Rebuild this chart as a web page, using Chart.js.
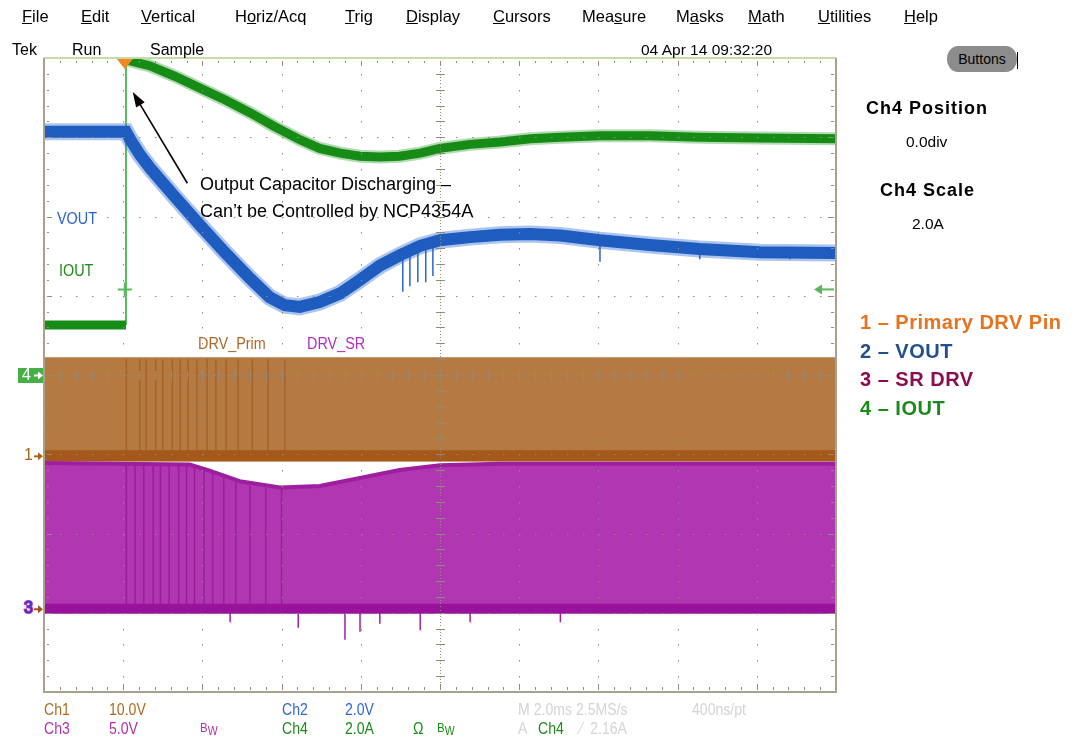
<!DOCTYPE html>
<html><head><meta charset="utf-8">
<script src="https://cdn.jsdelivr.net/npm/chart.js@4.4.1/dist/chart.umd.min.js"></script>
<style>
body{margin:0;background:#fff;width:1076px;height:740px;overflow:hidden;position:relative;font-family:'Liberation Sans',Arial,sans-serif}
#c{position:absolute;left:0;top:0}
.t{position:absolute;white-space:nowrap;line-height:1}
.m{font-size:16.5px;top:8px;color:#000}
.r2{font-size:16px;top:42px;color:#000}
.cn{transform:scaleX(.88);transform-origin:0 0;font-size:16px}
.s1{top:702px}.s2{top:721px}
.lg{font-weight:bold;font-size:20px;letter-spacing:.5px;left:860px}
.pn{font-weight:bold;font-size:18px;color:#000;letter-spacing:1px}
.in{font-size:16px;transform:scaleX(.9);transform-origin:0 0}
#btn{position:absolute;left:947px;top:46px;width:70px;height:26px;background:#8c8c8c;border-radius:11px/13px;font-size:14px;line-height:26px;text-align:center;color:#000}
#bar{position:absolute;left:1017px;top:52px;width:1px;height:17px;background:#000}
</style></head><body>
<canvas id="c" width="1076" height="740"></canvas>

<div class="t m" style="left:22px"><u>F</u>ile</div>
<div class="t m" style="left:81px"><u>E</u>dit</div>
<div class="t m" style="left:141px"><u>V</u>ertical</div>
<div class="t m" style="left:235px">H<u>o</u>riz/Acq</div>
<div class="t m" style="left:345px"><u>T</u>rig</div>
<div class="t m" style="left:406px"><u>D</u>isplay</div>
<div class="t m" style="left:493px"><u>C</u>ursors</div>
<div class="t m" style="left:582px">Mea<u>s</u>ure</div>
<div class="t m" style="left:676px">M<u>a</u>sks</div>
<div class="t m" style="left:748px"><u>M</u>ath</div>
<div class="t m" style="left:818px"><u>U</u>tilities</div>
<div class="t m" style="left:904px"><u>H</u>elp</div>

<div class="t r2" style="left:12px">Tek</div>
<div class="t r2" style="left:72px">Run</div>
<div class="t r2" style="left:150px">Sample</div>
<div class="t r2" style="left:641px;font-size:15.5px">04 Apr 14 09:32:20</div>

<div id="btn">Buttons</div><div id="bar"></div>
<div class="t pn" style="left:866px;top:99px">Ch4 Position</div>
<div class="t" style="left:906px;top:134px;font-size:15.5px">0.0div</div>
<div class="t pn" style="left:880px;top:181px">Ch4 Scale</div>
<div class="t" style="left:912px;top:216px;font-size:15.5px">2.0A</div>

<div class="t lg" style="top:312px;color:#e8731e">1 – Primary DRV Pin</div>
<div class="t lg" style="top:341px;color:#22508c">2 – VOUT</div>
<div class="t lg" style="top:369px;color:#8c0c52">3 – SR DRV</div>
<div class="t lg" style="top:398px;color:#1a8a1a">4 – IOUT</div>

<div class="t in" style="left:57px;top:211px;color:#2a64c8">VOUT</div>
<div class="t in" style="left:59px;top:263px;color:#1c8c1c">IOUT</div>
<div class="t in" style="left:198px;top:336px;color:#b0682a">DRV_Prim</div>
<div class="t in" style="left:307px;top:336px;color:#b030c0">DRV_SR</div>

<div class="t" style="left:200px;top:175px;font-size:18px;color:#000">Output Capacitor Discharging –</div>
<div class="t" style="left:200px;top:202px;font-size:18px;color:#000">Can’t be Controlled by NCP4354A</div>

<div class="t cn s1" style="left:44px;color:#b06a20">Ch1</div>
<div class="t cn s1" style="left:109px;color:#b06a20">10.0V</div>
<div class="t cn s1" style="left:282px;color:#2a6ad0">Ch2</div>
<div class="t cn s1" style="left:345px;color:#2a6ad0">2.0V</div>
<div class="t cn s1" style="left:518px;color:#d4d4d4">M 2.0ms 2.5MS/s</div>
<div class="t cn s1" style="left:692px;color:#d4d4d4">400ns/pt</div>
<div class="t cn s2" style="left:44px;color:#b030b0">Ch3</div>
<div class="t cn s2" style="left:109px;color:#b030b0">5.0V</div>
<div class="t cn s2" style="left:200px;color:#b030b0;font-size:13px">B<span style="font-size:12px;position:relative;top:3px">W</span></div>
<div class="t cn s2" style="left:282px;color:#1a8a1a">Ch4</div>
<div class="t cn s2" style="left:345px;color:#1a8a1a">2.0A</div>
<div class="t cn s2" style="left:413px;color:#1a8a1a">Ω</div>
<div class="t cn s2" style="left:437px;color:#1a8a1a;font-size:13px">B<span style="font-size:12px;position:relative;top:3px">W</span></div>
<div class="t cn s2" style="left:518px;color:#d4d4d4">A</div>
<div class="t cn s2" style="left:538px;color:#1a8a1a">Ch4</div>
<div class="t cn s2" style="left:580px;color:#d4d4d4">⁄&nbsp; 2.16A</div>

<script>
/* Tek scope capture: x in divisions (0..10, 2 ms/div), y in divisions (0..8) */
const ioutLowX=[0,1.035], ioutLow=[4.63,4.63];
const ioutStepX=[1.035,1.035], ioutStep=[4.63,8];
const ioutX=[1.04,1.06,1.34,1.65,1.97,2.29,2.60,2.92,3.23,3.48,3.74,3.99,4.24,4.49,4.75,5.00,5.38,5.76,6.14,6.52,7.02,7.65,8.28,9.04,10];
const iout=[8.0,7.97,7.90,7.77,7.62,7.47,7.31,7.13,6.97,6.86,6.80,6.76,6.75,6.76,6.80,6.86,6.91,6.94,6.98,7.00,7.02,7.02,7.00,6.99,6.98];

const voutX=[0,1.035,1.09,1.21,1.34,1.65,1.97,2.29,2.60,2.85,3.04,3.23,3.48,3.74,3.99,4.24,4.49,4.75,5.00,5.38,5.76,6.14,6.52,7.02,7.65,8.28,9.04,10];
const vout=[7.07,7.07,6.97,6.78,6.61,6.25,5.89,5.54,5.22,4.98,4.88,4.86,4.92,5.03,5.20,5.38,5.51,5.63,5.70,5.74,5.77,5.78,5.76,5.70,5.64,5.59,5.55,5.54];
const vSpikeX=[4.53,4.62,4.72,4.82,4.91,7.02,8.28,9.42,9.80];
const vSpikeTop=[5.55,5.60,5.65,5.67,5.69,5.70,5.59,5.56,5.55];
const vSpikeLow=[5.05,5.12,5.17,5.17,5.25,5.43,5.46,5.46,5.50];

const primX=[0,10], primTop=[4.21,4.21], primBase=[2.98,2.98];
const primEdgeX=[1.04,1.21,1.29,1.41,1.50,1.62,1.72,1.82,1.93,2.06,2.17,2.30,2.45,2.63,2.83,3.04];

const srX=[0,1.84,2.10,2.47,2.98,3.48,3.99,4.49,5.00,5.76,10];
const srTop=[2.89,2.87,2.79,2.66,2.58,2.60,2.70,2.80,2.86,2.88,2.88];
const srBaseX=[0,10], srBase=[1.05,1.05];
const srEdgeX=[1.04,1.15,1.26,1.38,1.47,1.58,1.70,1.80,1.90,2.02,2.13,2.27,2.42,2.60,2.80,3.00];
const srEdgeTop=[2.87,2.87,2.87,2.87,2.87,2.87,2.87,2.86,2.84,2.81,2.77,2.71,2.65,2.60,2.57,2.57];
const srSpikeX=[2.35,3.21,3.80,3.99,4.24,4.75,5.38,6.52];
const srSpikeLow=[0.88,0.81,0.66,0.76,0.86,0.78,0.88,0.88];

const trigX=1.02, trigLevel=5.08;
const noteFrom=[1.81,6.42], noteTo=[1.12,7.57];

const pts=(xs,ys)=>xs.map((x,i)=>({x,y:ys[i]}));
const segs=(xs,a,b)=>xs.flatMap((x,i)=>[{x,y:Array.isArray(a)?a[i]:a},{x,y:Array.isArray(b)?b[i]:b},{x,y:null}]);

function line(data,color,w,order,extra){
  return Object.assign({data,borderColor:color,borderWidth:w,pointRadius:0,tension:0,fill:false,spanGaps:false,clip:0,order},extra||{});
}

const scopeDeco={id:'scopeDeco',afterDatasetsDraw(ch){
  const {ctx,chartArea:a,scales:{x,y}}=ch;
  ctx.save();
  // grid dots
  ctx.fillStyle='#8f8c7c';
  for(let i=1;i<10;i++){const px=Math.round(x.getPixelForValue(i));
    for(let k=1;k<40;k++){const py=Math.round(y.getPixelForValue(k*0.2));ctx.fillRect(px,py,1,1.5);}}
  for(let j=1;j<8;j++){const py=Math.round(y.getPixelForValue(j));
    for(let k=1;k<50;k++){const px=Math.round(x.getPixelForValue(k*0.2));ctx.fillRect(px,py,1.5,1);}}
  // centre cross with minor ticks
  const cx=Math.round(x.getPixelForValue(5)), cy=Math.round(y.getPixelForValue(4));
  for(let k=1;k<200;k++){ctx.fillRect(cx,Math.round(y.getPixelForValue(k*0.04)),1,1);}
  for(let k=1;k<250;k++){ctx.fillRect(Math.round(x.getPixelForValue(k*0.04)),cy,1,1);}
  for(let k=1;k<40;k++){const py=Math.round(y.getPixelForValue(k*0.2));ctx.fillRect(cx-4,py,9,1);}
  for(let k=1;k<50;k++){const px=Math.round(x.getPixelForValue(k*0.2));ctx.fillRect(px,cy-4,1,9);}
  // border ticks
  for(let k=1;k<50;k++){const px=Math.round(x.getPixelForValue(k*0.2)),L=k%5?3:6;
    ctx.fillRect(px,a.top+3,1,L-1);ctx.fillRect(px,a.bottom-2-L,1,L);}
  for(let k=1;k<40;k++){const py=Math.round(y.getPixelForValue(k*0.2)),L=k%5?3:6;
    ctx.fillRect(a.left+3,py,L-1,1);ctx.fillRect(a.right-2-L,py,L,1);}
  // frame
  ctx.lineWidth=2;
  ctx.strokeStyle='#c4dca6';ctx.beginPath();ctx.moveTo(a.left,a.top);ctx.lineTo(a.right,a.top);ctx.stroke();
  ctx.strokeStyle='#a8a28c';ctx.beginPath();ctx.moveTo(a.left,a.top);ctx.lineTo(a.left,a.bottom);ctx.lineTo(a.right,a.bottom);ctx.lineTo(a.right,a.top);ctx.stroke();
  // trigger position (top) and trigger level (right)
  const tx=x.getPixelForValue(trigX), ty=y.getPixelForValue(trigLevel);
  ctx.fillStyle='#f08a22';ctx.beginPath();ctx.moveTo(tx-8,a.top+1);ctx.lineTo(tx+8,a.top+1);ctx.lineTo(tx,a.top+11);ctx.closePath();ctx.fill();
  ctx.strokeStyle='#5cb85c';ctx.lineWidth=2;
  ctx.beginPath();ctx.moveTo(tx-7,ty);ctx.lineTo(tx+7,ty);ctx.moveTo(tx,ty-7);ctx.lineTo(tx,ty+7);ctx.stroke();
  ctx.beginPath();ctx.moveTo(a.right-2,ty);ctx.lineTo(a.right-19,ty);ctx.stroke();
  ctx.fillStyle='#5cb85c';ctx.beginPath();ctx.moveTo(a.right-22,ty);ctx.lineTo(a.right-14,ty-5);ctx.lineTo(a.right-14,ty+5);ctx.closePath();ctx.fill();
  // channel ground markers on the left
  const m4=y.getPixelForValue(4), m1=y.getPixelForValue(primBase[0]), m3=y.getPixelForValue(srBase[0]);
  ctx.fillStyle='#46b046';ctx.fillRect(18,m4-7,25,15);
  ctx.font='16px "Liberation Sans",Arial';ctx.textBaseline='middle';
  ctx.fillStyle='#fff';ctx.fillText('4',22,m4+1);
  const arr=(yy,c)=>{ctx.fillStyle=c;ctx.fillRect(34,yy-0.5,6,2);ctx.beginPath();ctx.moveTo(43,yy+0.5);ctx.lineTo(38,yy-3.5);ctx.lineTo(38,yy+4.5);ctx.closePath();ctx.fill();};
  arr(m4,'#fff');
  ctx.fillStyle='#b0621c';ctx.fillText('1',24,m1);arr(m1,'#b0621c');
  ctx.lineWidth=2;ctx.strokeStyle='#b030b0';ctx.strokeText('3',24,m3);ctx.fillStyle='#2a3ec0';ctx.fillText('3',24,m3);arr(m3,'#a0501a');
  // annotation arrow
  const fx=x.getPixelForValue(noteFrom[0]), fy=y.getPixelForValue(noteFrom[1]);
  const ax=x.getPixelForValue(noteTo[0]), ay=y.getPixelForValue(noteTo[1]);
  const ang=Math.atan2(ay-fy,ax-fx);
  ctx.strokeStyle='#000';ctx.lineWidth=1.6;
  ctx.beginPath();ctx.moveTo(fx,fy);ctx.lineTo(ax-10*Math.cos(ang),ay-10*Math.sin(ang));ctx.stroke();
  ctx.fillStyle='#000';ctx.beginPath();ctx.moveTo(ax,ay);
  ctx.lineTo(ax-15*Math.cos(ang)+5*Math.sin(ang),ay-15*Math.sin(ang)-5*Math.cos(ang));
  ctx.lineTo(ax-15*Math.cos(ang)-5*Math.sin(ang),ay-15*Math.sin(ang)+5*Math.cos(ang));
  ctx.closePath();ctx.fill();
  ctx.restore();
}};

new Chart(document.getElementById('c'),{
  type:'line',
  data:{datasets:[
    line(pts(primX,primTop),'#b47a42',2,20,{fill:{value:2.91},backgroundColor:'#b47a42'}),
    line(segs(primEdgeX,2.92,4.2),'#a6642a',1.5,19),
    line(pts(primX,primBase),'#a4591a',11,18),
    line(pts(srX,srTop),'#9e1ea0',4,17,{fill:{value:1.0},backgroundColor:'#b036b2'}),
    line(segs(srEdgeX,1.05,srEdgeTop),'#9c1c9e',1.5,16),
    line(segs(srSpikeX,1.05,srSpikeLow),'#a020a4',1.5,15),
    line(pts(srBaseX,srBase),'#98129c',10,14),
    line(pts(ioutStepX,ioutStep),'#5cb85c',2,8),
    line(pts(ioutX,iout),'rgba(40,150,40,0.35)',13,7),
    line(pts(ioutLowX,ioutLow),'#168c16',9,5),
    line(pts(ioutX,iout),'#168c16',9,4),
    line(segs(vSpikeX,vSpikeTop,vSpikeLow),'#2a66c8',1.5,3),
    line(pts(voutX,vout),'rgba(50,110,210,0.4)',17,3),
    line(pts(voutX,vout),'#1e5cc0',12,2)
  ]},
  options:{responsive:false,animation:false,devicePixelRatio:1,
    layout:{padding:{left:44,top:58,right:240,bottom:48}},
    plugins:{legend:{display:false},tooltip:{enabled:false}},
    scales:{x:{type:'linear',min:0,max:10,display:false},y:{type:'linear',min:0,max:8,display:false}}},
  plugins:[scopeDeco]
});
</script>
</body></html>
